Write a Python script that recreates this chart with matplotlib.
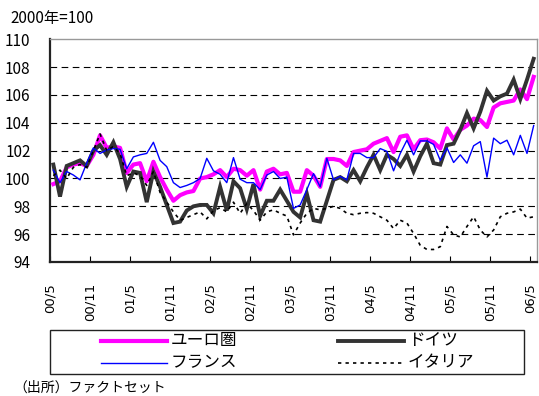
import matplotlib.pyplot as plt
from matplotlib.lines import Line2D
from matplotlib.patches import Rectangle
import numpy as np

plt.rcParams['font.family'] = ['Noto Sans CJK JP', 'DejaVu Sans']

# 月次指数 (2000年=100), 2000/5 - 2006/5
euro = [99.6, 99.8, 100.8, 101.0, 101.1, 100.9, 101.7, 103.1, 102.2, 102.3,
        102.2, 100.4, 101.0, 101.1, 99.8, 101.2, 100.1, 99.2, 98.4, 98.8,
        99.0, 99.1, 100.0, 100.1, 100.3, 100.6, 100.1, 100.7, 100.6, 100.2,
        100.6, 99.2, 100.5, 100.7, 100.3, 100.4, 99.05, 99.05, 100.6, 100.2,
        99.4, 101.4, 101.4, 101.3, 100.9, 101.9, 102.0, 102.1, 102.5, 102.7,
        102.9, 101.9, 103.0, 103.1, 102.1, 102.75, 102.8, 102.6, 102.15, 103.6,
        102.8, 103.5, 103.8, 104.3, 104.2, 103.7, 105.1, 105.4, 105.5, 105.6,
        106.4, 105.7, 107.3]
germany = [101.0, 98.7, 100.9, 101.1, 101.3, 100.9, 102.0, 102.4, 101.7, 102.6,
           101.4, 99.4, 100.5, 100.4, 98.3, 100.5, 99.4, 98.1, 96.8, 96.9,
           97.7, 98.0, 98.1, 98.1, 97.5, 99.4, 97.7, 99.8, 99.3, 97.8,
           99.6, 97.3, 98.4, 98.4, 99.2, 98.4, 97.6, 97.2, 98.9, 97.0,
           96.9, 98.4, 99.9, 100.1, 99.8, 100.6, 99.8, 100.8, 101.7, 100.6,
           101.7, 101.4, 100.9, 101.7, 100.5, 101.6, 102.5, 101.1, 101.0, 102.4,
           102.5, 103.5, 104.7, 103.6, 104.8, 106.3, 105.6, 105.9, 106.1, 107.1,
           105.7, 107.1, 108.6]
france = [100.6, 99.7, 100.5, 100.25, 99.9, 101.1, 102.2, 101.8, 102.05, 102.15,
          102.1, 100.7, 101.55, 101.7, 101.8, 102.6, 101.3, 100.85, 99.7, 99.35,
          99.5, 99.7, 100.0, 101.45, 100.55, 100.3, 99.7, 101.5, 99.95, 99.7,
          99.7, 99.2, 100.25, 100.5, 100.0, 100.1, 97.85, 98.1, 99.2, 100.35,
          99.4, 101.45, 99.9, 100.15, 99.9, 101.8, 101.8, 101.5, 101.5, 102.15,
          101.95, 100.55, 101.8, 102.75, 101.7, 102.7, 102.7, 102.45, 101.3, 102.2,
          101.15, 101.7, 101.1, 102.35, 102.65, 100.1, 102.9, 102.5, 102.75, 101.7,
          103.1, 101.8, 103.8]
italy = [100.2, 100.6, 100.0, 100.8, 101.0, 100.8, 102.0, 103.2, 102.0, 102.3,
         101.8, 100.2, 100.4, 100.2, 99.5, 100.5, 99.0, 98.3, 97.6, 97.0,
         97.2, 97.4, 97.6, 97.1, 97.7, 97.9, 97.6, 98.3, 97.5, 98.2,
         97.7, 97.0, 97.6, 97.75, 97.5, 97.3, 95.95, 96.8, 97.5, 97.85,
         97.75, 97.85, 98.0, 97.85, 97.5, 97.4, 97.5, 97.55, 97.5, 97.25,
         97.0, 96.4, 97.0, 96.8, 96.05, 95.2, 94.9, 94.9, 95.1, 96.55,
         95.95, 95.8, 96.55, 97.25, 96.3, 95.8, 96.3, 97.25, 97.5, 97.6,
         97.8, 97.15, 97.25]

tick_labels = ['00/5', '00/11', '01/5', '01/11', '02/5', '02/11', '03/5',
               '03/11', '04/5', '04/11', '05/5', '05/11', '06/5']
grid_levels = [96, 98, 100, 102, 104, 106, 108]

W, H = 539, 396
fig = plt.figure(figsize=(W / 100, H / 100), dpi=100)
ax = fig.add_axes([50 / W, 1 - 262 / H, 487 / W, 222.7 / H])

x = np.arange(len(euro)) + 0.5

for g in grid_levels:
    ax.axhline(g, color='black', lw=0.8, dashes=(6, 4), zorder=1)

styles = {
    'euro': dict(color='#ff00ff', lw=3.0, solid_joinstyle='round'),
    'germany': dict(color='#333333', lw=2.8, solid_joinstyle='miter'),
    'france': dict(color='#0000ff', lw=1.0),
    'italy': dict(color='black', lw=1.2, dashes=(2, 2.5)),
}
ax.plot(x, euro, zorder=3, **styles['euro'])
ax.plot(x, germany, zorder=4, **styles['germany'])
ax.plot(x, france, zorder=5, **styles['france'])
ax.plot(x, italy, zorder=6, **styles['italy'])

ax.set_xlim(0, 73)
ax.set_ylim(94, 110)
ax.set_yticks(np.arange(94, 111, 2))
ax.tick_params(axis='y', length=0, pad=14, labelsize=11)
ax.set_xticks(np.arange(0, 73, 6))
ax.set_xticklabels(tick_labels, rotation=90, fontsize=9.5, family='DejaVu Sans')
ax.tick_params(axis='x', direction='in', length=4, width=0.8, pad=15)

for side in ['left', 'bottom']:
    ax.spines[side].set_linewidth(1.6)
    ax.spines[side].set_color('#222222')
for side in ['top', 'right']:
    ax.spines[side].set_linewidth(1.0)
    ax.spines[side].set_color('#999999')

fig.text(10 / W, 1 - 19 / H, '2000年=100', fontsize=11, va='center', ha='left')

# 凡例
fig.patches.append(Rectangle((50 / W, 1 - 374 / H), 474 / W, 44 / H,
                             transform=fig.transFigure, fill=False,
                             edgecolor='#222222', lw=1.0))
entries = [
    ('ユーロ圏', 'euro', 101, 341),
    ('フランス', 'france', 101, 363),
    ('ドイツ', 'germany', 338, 341),
    ('イタリア', 'italy', 338, 363),
]
for label, key, px, py in entries:
    yy = 1 - py / H
    fig.lines.append(Line2D([px / W, (px + 66) / W], [yy, yy],
                            transform=fig.transFigure, **styles[key]))
    fig.text((px + 70) / W, yy, label, fontsize=12, va='center', ha='left')

fig.text(13 / W, 1 - 388 / H, '（出所）ファクトセット', fontsize=10,
         va='center', ha='left')

fig.savefig('out.png', dpi=100)
